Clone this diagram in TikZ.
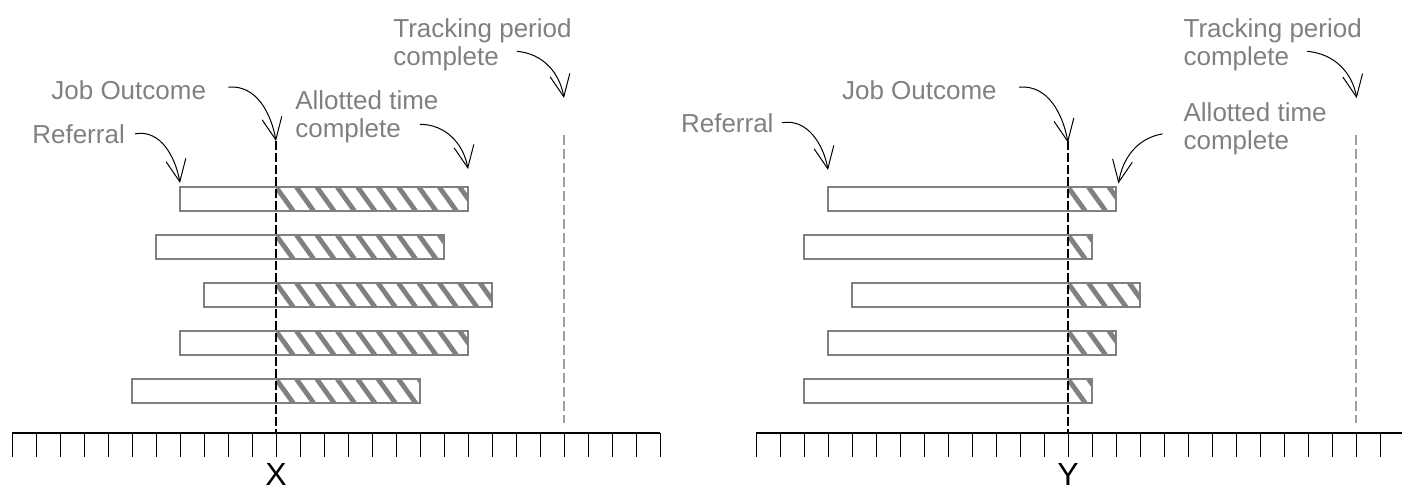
\documentclass[tikz,border=0pt]{standalone}
\usepackage{fontspec}
\setmainfont{Liberation Sans}
\usepackage{tikz}
\usetikzlibrary{arrows.meta}
\definecolor{midgray}{HTML}{808080}
\definecolor{lightgray}{HTML}{A0A0A0}

\begin{document}
\begin{tikzpicture}[x=12pt,y=12pt,
    bar/.style={draw=midgray,line width=1pt},
    stripe/.style={draw=midgray,line width=2.4pt},
    note/.style={text=midgray,font=\fontsize{13}{14}\selectfont,inner sep=0pt,align=left},
    axisname/.style={font=\fontsize{16}{18}\selectfont,inner sep=0pt},
    pointer/.style={-{Straight Barb[length=11pt,width=10pt]},line width=0.5pt},
    outcome/.style={line width=0.8pt,dash pattern=on 4.5pt off 1.5pt},
    tracking/.style={draw=lightgray,line width=0.9pt,dash pattern=on 5pt off 2pt}
  ]
  \useasboundingbox (-0.5,-2.5) rectangle (57.9167,18.0417);
  \clip (-0.5,-2.5) rectangle (57.9167,18.0417);
  % panels: shift / outcome / tracking end / letter / bar starts
  \foreach \sh/\jo/\tp/\ax/\bars in {0/11/23/X/{7,6,8,7,5},31/13/25/Y/{3,2,4,3,2}}{
    \begin{scope}[xshift=\sh*12pt]
      \foreach \s [count=\j from 0] in \bars {
        \pgfmathsetmacro\yb{9.25-2*\j}
        \begin{scope}
          \clip (\jo,\yb) rectangle (\s+12,\yb+1);
          \foreach \k in {0,...,12}
            \draw[stripe] (\jo+0.85*\k,\yb+1) -- ++(0.72,-1);
        \end{scope}
        \draw[bar] (\s,\yb) rectangle (\s+12,\yb+1);
      }
      % time axis
      \draw[line width=0.6pt] (0,0) -- (27,0);
      \foreach \t in {0,...,27}
        \draw[line width=0.5pt] (\t,0) -- (\t,-1);
      \draw[outcome] (\jo,12.17) -- (\jo,0);
      \draw[tracking] (\tp,12.4) -- (\tp,0.42);
      \node[axisname] (axis\ax) at (\jo,-1.72) {\ax};
    \end{scope}
  }
  % left panel
  \node[note,anchor=base west] (refX) at (0.83,12.08) {Referral};
  \node[note,anchor=base west] (jobX) at (1.625,13.9) {Job Outcome};
  \node[note,anchor=north west] (allotX) at (11.79,14.3) {Allotted time\\complete};
  \node[note,anchor=north west] (trackX) at (15.875,17.3) {Tracking period\\complete};
  \coordinate (refXtip) at (7,10.42);
  \coordinate (jobXtip) at (11,12.17);
  \coordinate (allotXtip) at (19,11);
  \coordinate (trackXtip) at (23,13.96);
  \draw[pointer] ([xshift=5pt]refX.east) to[out=10,in=100] (refXtip);
  \draw[pointer] ([xshift=11pt,yshift=1.5pt]jobX.east) to[out=5,in=100] (jobXtip);
  \draw[pointer] ([xshift=62.5pt,yshift=9.25pt]allotX.south west) to[out=0,in=100] (allotXtip);
  \draw[pointer] ([xshift=62pt,yshift=9.75pt]trackX.south west) to[out=-5,in=100] (trackXtip);
  % right panel
  \node[note,anchor=base west] (refY) at (27.86,12.54) {Referral};
  \node[note,anchor=base west] (jobY) at (34.57,13.9) {Job Outcome};
  \node[note,anchor=north west] (allotY) at (48.8,13.8) {Allotted time\\complete};
  \node[note,anchor=north west] (trackY) at (48.8,17.3) {Tracking period\\complete};
  \coordinate (refYtip) at (34,10.96);
  \coordinate (jobYtip) at (44,12.1);
  \coordinate (allotYtip) at (46.1,10.4);
  \coordinate (trackYtip) at (56.03,13.95);
  \draw[pointer] ([xshift=4pt]refY.east) to[out=10,in=100] (refYtip);
  \draw[pointer] ([xshift=11pt,yshift=1.5pt]jobY.east) to[out=5,in=100] (jobYtip);
  \draw[pointer] ([xshift=-10.3pt,yshift=10.5pt]allotY.south west) to[out=190,in=80] (allotYtip);
  \draw[pointer] ([xshift=62pt,yshift=9.75pt]trackY.south west) to[out=-5,in=100] (trackYtip);
\end{tikzpicture}
\end{document}
